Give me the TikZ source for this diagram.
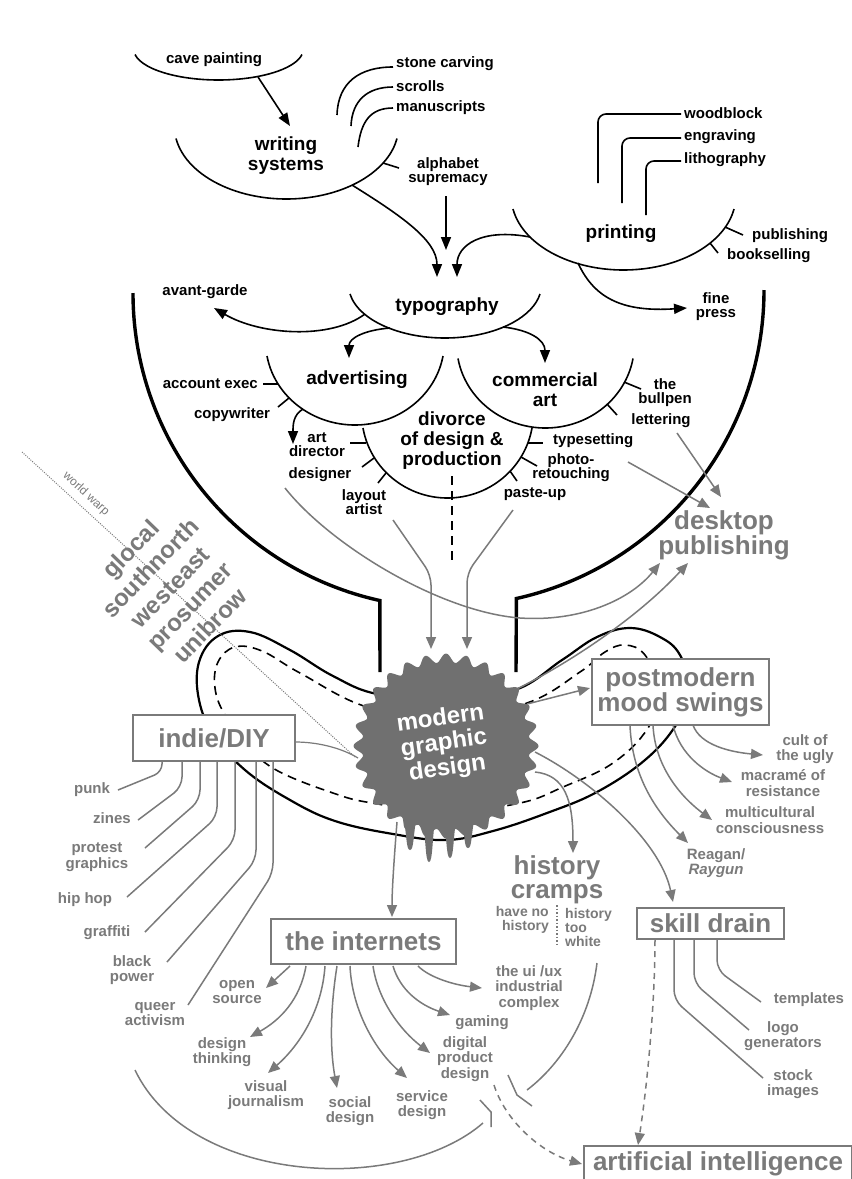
\documentclass[tikz,border=0pt]{standalone}
\usepackage{fontspec}
\setmainfont{Liberation Sans}
\usetikzlibrary{arrows.meta}
\definecolor{gc}{RGB}{122,122,122}
\definecolor{blobc}{RGB}{112,112,112}
\newcommand\uarc[4]{\draw[bl] ({#1-#4},#2) arc[start angle=170,end angle=10,x radius={#4/0.9848},y radius={(#3-#2)/0.8264}];}
\begin{document}
\begin{tikzpicture}[x=1pt,y=-1pt,
  lbl/.style={font=\fontsize{15}{14}\selectfont\bfseries, inner sep=0pt, align=center},
  glbl/.style={font=\fontsize{15}{15.5}\selectfont\bfseries, inner sep=0pt, align=center, text=gc},
  big/.style={font=\fontsize{19}{20}\selectfont\bfseries, inner sep=0pt, align=center},
  gbig/.style={font=\fontsize{26}{24}\selectfont\bfseries, inner sep=0pt, align=center, text=gc},
  bl/.style={line width=1.6pt},
  bowl/.style={line width=3.4pt},
  gl/.style={line width=1.5pt, draw=gc},
  arr/.style={-{Triangle[length=13pt,width=10pt]}},
  garr/.style={-{Triangle[length=12pt,width=10pt]}},
  gbox/.style={draw=gc, line width=1.6pt, fill=white, inner sep=0pt, font=\fontsize{26}{24}\selectfont\bfseries, text=gc, align=center},
]
\useasboundingbox (0,0) rectangle (852,1179);
\fill[white] (0,0) rectangle (852,1179);

% ---------- top black part
\uarc{218.5}{54.5}{80}{83.5}
\node[lbl] (cave) at (214,60) {cave painting};
\draw[bl,arr] (258,77) -- (290,126);

\uarc{286.5}{138.5}{199}{110.5}
\node[big] (ws) at (286,156) {writing\\systems};
\draw[bl] (337,115) .. controls (338,82) and (360,67) .. (393,67);
\node[lbl,anchor=west] (stone) at (396,64) {stone carving};
\draw[bl] (351,126) .. controls (352,101) and (367,87) .. (393,87);
\node[lbl,anchor=west] (scrolls) at (396,86) {scrolls};
\draw[bl] (358,147) .. controls (361,122) and (370,108) .. (393,108);
\node[lbl,anchor=west] (manu) at (396,108) {manuscripts};
\draw[bl] (383,163) -- (399,168);
\node[lbl] (alpha) at (448,172) {alphabet\\supremacy};
\draw[bl,arr] (446,196) -- (446,250);
\draw[bl,arr] (352,185) .. controls (400,215) and (437,240) .. (437,277);

\uarc{623.5}{209}{270}{110.5}
\node[big] (print) at (621,234) {printing};
\draw[bl,rounded corners=8] (598,183) |- (681,114);
\node[lbl,anchor=west] (wood) at (684,113) {woodblock};
\draw[bl,rounded corners=8] (622,203) |- (681,138);
\node[lbl,anchor=west] (engr) at (684,137) {engraving};
\draw[bl,rounded corners=8] (646,215) |- (681,161);
\node[lbl,anchor=west] (litho) at (684,160) {lithography};
\draw[bl] (725,227) -- (743,235);
\node[lbl,anchor=west] (pub) at (752,236) {publishing};
\draw[bl] (710,243) -- (718,253);
\node[lbl,anchor=west] (book) at (727,256) {bookselling};
\draw[bl,arr] (530,237) .. controls (482,228) and (457,245) .. (457,277);
\draw[bl,arr] (578,263) .. controls (595,300) and (625,312) .. (687,308);
\node[lbl] (fine) at (716,307) {fine\\press};

\uarc{445}{294}{338}{95}
\node[big] (typo) at (447,307) {typography};
\draw[bl,arr] (365,314) .. controls (330,340) and (260,335) .. (214,308);
\node[lbl] (avant) at (205,292) {avant-garde};
\draw[bl,arr] (390,328) .. controls (365,330) and (349,338) .. (349,358);
\draw[bl,arr] (503,327) .. controls (530,330) and (545,340) .. (545,363);

\uarc{355}{356}{425}{88}
\node[big] (adv) at (357,380) {advertising};
\draw[bl] (263,384) -- (278,384);
\node[lbl,anchor=east] (acct) at (258,384) {account exec};
\draw[bl] (289,398) -- (278,407);
\node[lbl] (copy) at (232,415) {copywriter};
\draw[bl,arr] (303,409) .. controls (293,415) and (293,425) .. (293,444);

\uarc{545.5}{358.5}{428}{87.5}
\node[big] (comm) at (545,390) {commercial\\art};
\draw[bl] (624,382) -- (641,389);
\node[lbl] (bull) at (665,393) {the\\bullpen};
\draw[bl] (607,404) -- (617,415);
\node[lbl] (letter) at (661,421) {lettering};

\uarc{447.5}{428}{498}{84.5}
\node[big] (div) at (452,441) {divorce\\of design \&\\production};
\draw[bl] (350,443) -- (366,443);
\node[lbl] (artd) at (317,445) {art\\director};
\draw[bl] (374,458) -- (362,467);
\node[lbl] (desg) at (320,475) {designer};
\draw[bl] (386,473) -- (378,483);
\node[lbl] (layout) at (364,502) {layout\\artist};
\draw[bl] (528,443) -- (543,443);
\node[lbl,anchor=west] (types) at (553,441) {typesetting};
\draw[bl] (521,457) -- (537,466);
\node[lbl] (photo) at (571,468) {photo-\\retouching};
\draw[bl] (510,471) -- (517,481);
\node[lbl] (paste) at (535,494) {paste-up};
\draw[bl, dash pattern=on 9pt off 6pt] (452,476) -- (452,560);

% ---------- bowl
\draw[bowl] (133,293) arc[start angle=180,end angle=102.5,radius=315] -- (380,672);
\draw[bowl] (764,290) arc[start angle=0,end angle=77.5,radius=316] -- (516,672);

% ---------- kidney
\draw[line width=2.2pt] plot[smooth cycle,tension=0.65] coordinates {(446,700) (377,694) (333,676) (290,650) (250,632) (218,636) (199,662) (199,700) (214,735) (245,770) (290,800) (335,821) (393,834) (446,840) (493,831) (547,813) (597,792) (645,760) (676,725) (690,690) (680,655) (660,637) (630,628) (597,637) (562,660) (515,690)};
\draw[line width=1.6pt,dash pattern=on 9pt off 6pt] plot[smooth cycle,tension=0.65] coordinates {(446,718) (367,707) (300,673) (262,651) (235,647) (218,662) (215,688) (225,715) (250,748) (278,771) (333,793) (372,803) (446,812) (520,803) (563,787) (613,763) (648,728) (660,690) (645,655) (625,645) (605,652) (580,672) (527,703)};

% ---------- gray to desktop publishing
\node[gbig] (dtp) at (724,535) {desktop\\publishing};
\draw[gl,garr] (677,433) -- (721,497);
\draw[gl,garr] (628,462) -- (710,508);
\draw[gl,garr] (285,488) .. controls (330,545) and (440,612) .. (520,618) .. controls (580,622) and (630,600) .. (660,563);
\draw[gl,garr,rounded corners=10] (393,520) -- (431,575) -- (431,649);
\draw[gl,garr,rounded corners=10] (513,510) -- (467,573) -- (467,649);
\draw[gl,garr] (515,690) .. controls (575,660) and (640,615) .. (688,563);

% ---------- world warp
\draw[gc, line width=1pt, dash pattern=on 1pt off 1.3pt] (22,452) -- (355,757);
\node[font=\fontsize{12}{12}\selectfont, text=gc, rotate=-42.5, inner sep=0pt] (ww) at (86,494) {world warp};
\node[font=\fontsize{24}{27.5}\selectfont\bfseries, text=gc, align=center, rotate=46, inner sep=0pt] (words) at (170,587) {glocal\\southnorth\\westeast\\prosumer\\unibrow};

% ---------- indie branches
\draw[gl, line width=1.2pt] (295,742) .. controls (322,742) and (345,750) .. (358,758);
\draw[gl,rounded corners=8] (162,760) -- (162,772) -- (118,790);
\draw[gl,rounded corners=10] (182,760) -- (182,787) -- (138,820);
\draw[gl,rounded corners=10] (200,760) -- (200,800) -- (145,848);
\draw[gl,rounded corners=10] (217,760) -- (217,817) -- (127,897);
\draw[gl,rounded corners=10] (235,760) -- (235,840) -- (145,932);
\draw[gl,rounded corners=10] (256,760) -- (256,860) -- (167,962);
\draw[gl,rounded corners=10] (273,760) -- (273,873) -- (188,1005);
\node[glbl] (punk) at (92,790) {punk};
\node[glbl] (zines) at (112,818) {zines};
\node[glbl] (protest) at (97,857) {protest\\graphics};
\node[glbl] (hiphop) at (85,900) {hip hop};
\node[glbl] (graffiti) at (107,933) {graffiti};
\node[glbl] (black) at (132,970) {black\\power};
\node[glbl] (queer) at (155,1014) {queer\\activism};

% ---------- postmodern branches
\draw[gl,garr] (527,704) -- (590,688);
\draw[gl,garr] (693,725) .. controls (700,745) and (730,752) .. (763,755);
\draw[gl,garr] (673,725) .. controls (680,755) and (705,772) .. (732,782);
\draw[gl,garr] (653,725) .. controls (655,770) and (685,800) .. (712,820);
\draw[gl,garr] (630,725) .. controls (632,780) and (660,815) .. (688,843);
\node[glbl] (cult) at (805,749) {cult of\\the ugly};
\node[glbl] (macr) at (783,783) {macramé of\\resistance};
\node[glbl] (multi) at (770,820) {multicultural\\consciousness};
\node[glbl] (reagan) at (716,863) {Reagan/\\\textit{Raygun}};

% ---------- blob arrows
\draw[gl,garr] (397,822) .. controls (394,860) and (392,890) .. (392,917);
\draw[gl,garr] (535,772) .. controls (565,775) and (573,800) .. (573,853);
\draw[gl,garr] (535,752) .. controls (590,780) and (660,840) .. (673,902);

% ---------- history
\node[gbig] (hist) at (557,880) {history\\cramps};
\node[font=\fontsize{14}{14.5}\selectfont\bfseries, text=gc, align=right, inner sep=0pt, anchor=east] (hnh) at (549,920) {have no\\history};
\node[font=\fontsize{14}{14}\selectfont\bfseries, text=gc, align=left, inner sep=0pt, anchor=west] (htw) at (565,927) {history\\too\\white};
\draw[gc, line width=1.5pt, dotted] (557,905) -- (557,945);
\draw[gl] (597,963) .. controls (590,1020) and (560,1065) .. (527,1090);
\draw[gl] (508,1075) -- (517,1095) -- (532,1106);

% ---------- internets branches
\draw[gl,garr] (290,966) -- (266,988);
\draw[gl,garr] (306,966) .. controls (300,1000) and (280,1020) .. (250,1037);
\draw[gl,garr] (325,966) .. controls (322,1010) and (300,1045) .. (268,1073);
\draw[gl,garr] (337,966) .. controls (330,1010) and (330,1050) .. (337,1088);
\draw[gl,garr] (350,966) .. controls (352,1010) and (375,1050) .. (407,1078);
\draw[gl,garr] (373,966) .. controls (378,1000) and (400,1030) .. (430,1053);
\draw[gl,garr] (393,966) .. controls (400,990) and (420,1005) .. (450,1015);
\draw[gl,garr] (418,966) .. controls (430,978) and (455,985) .. (482,988);
\node[glbl] (open) at (237,992) {open\\source};
\node[glbl] (dthink) at (222,1052) {design\\thinking};
\node[glbl] (visual) at (266,1095) {visual\\journalism};
\node[glbl] (social) at (350,1111) {social\\design};
\node[glbl] (service) at (422,1105) {service\\design};
\node[glbl] (digital) at (465,1059) {digital\\product\\design};
\node[glbl] (gaming) at (482,1023) {gaming};
\node[glbl] (uiux) at (529,988) {the ui /ux\\industrial\\complex};
\draw[gl] (135,1070) .. controls (190,1185) and (400,1195) .. (483,1123);
\draw[gl] (480,1100) -- (491,1112) -- (491,1127);
\draw[gl,garr,dash pattern=on 6pt off 5pt] (494,1085) .. controls (505,1120) and (540,1152) .. (582,1164);

% ---------- skill drain branches
\draw[gl,garr,dash pattern=on 6pt off 5pt] (655,940) .. controls (655,1000) and (648,1080) .. (638,1145);
\draw[gl,rounded corners=10] (674,940) -- (674,1000) -- (763,1078);
\draw[gl,rounded corners=10] (694,940) -- (694,983) -- (749,1030);
\draw[gl,rounded corners=10] (717,940) -- (717,970) -- (761,1002);
\node[glbl] (templ) at (809,1000) {templates};
\node[glbl] (logo) at (783,1036) {logo\\generators};
\node[glbl] (stock) at (793,1084) {stock\\images};

% ---------- boxes
\node[gbox, minimum width=162pt, minimum height=46pt] (indie) at (214,738) {indie/DIY};
\node[gbox, minimum width=177pt, minimum height=66pt] (pm) at (680.5,692) {postmodern\\mood swings};
\node[gbox, minimum width=185pt, minimum height=45pt] (inet) at (363.5,941.5) {the internets};
\node[gbox, minimum width=147pt, minimum height=31pt] (skill) at (710.5,923.5) {skill drain};
\node[gbox, minimum width=268pt, minimum height=36pt] (ai) at (718,1164) {artificial intelligence};

% ---------- blob
\fill[blobc, shift={(446,746)}] plot[domain=0:360,samples=361,smooth] (\x:{88+4.5*cos(28*\x)}) -- cycle;
\foreach \dx/\len in {-36/850,-17/862,4/858,22/848}{
  \fill[blobc] ({446+\dx-7},815) .. controls ({446+\dx-3},835) and ({446+\dx-4},\len) .. ({446+\dx},\len) .. controls ({446+\dx+4},\len) and ({446+\dx+3},835) .. ({446+\dx+7},815) -- cycle;
}
\node[font=\fontsize{24}{25}\selectfont\bfseries, text=white, align=center, rotate=8, inner sep=0pt] (mgd) at (444,744) {modern\\graphic\\design};
\end{tikzpicture}
\end{document}
